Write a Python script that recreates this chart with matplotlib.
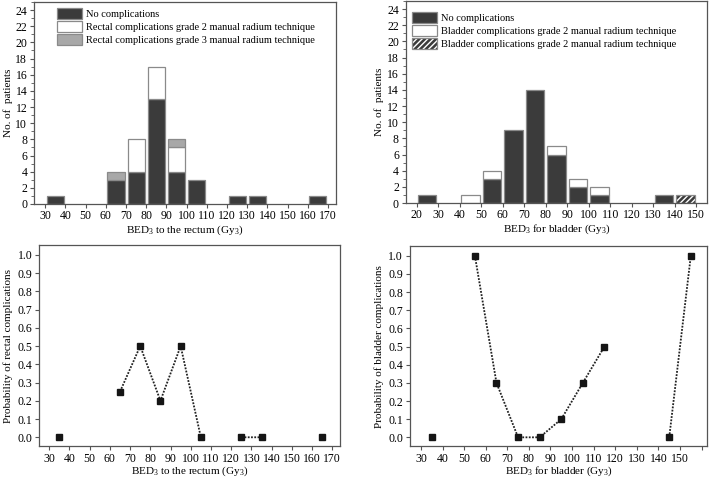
import numpy as np
import matplotlib
matplotlib.use('Agg')
import matplotlib.pyplot as plt
from matplotlib.patches import Patch
from matplotlib.ticker import MultipleLocator

plt.rcParams['font.family'] = ['Liberation Serif', 'DejaVu Serif']
plt.rcParams['mathtext.default'] = 'regular'
plt.rcParams['font.size'] = 8

# rectum histogram (bin centres)
rect_bins = [35, 45, 55, 65, 75, 85, 95, 105, 115, 125, 135, 145, 155, 165]
rect_none = [1, 0, 0, 3, 4, 13, 4, 3, 0, 1, 1, 0, 0, 1]
rect_g2 = [0, 0, 0, 0, 4, 4, 3, 0, 0, 0, 0, 0, 0, 0]
rect_g3 = [0, 0, 0, 1, 0, 0, 1, 0, 0, 0, 0, 0, 0, 0]

# bladder histogram
blad_bins = [25, 35, 45, 55, 65, 75, 85, 95, 105, 115, 125, 135, 145]
blad_none = [1, 0, 0, 3, 9, 14, 6, 2, 1, 0, 0, 1, 0]
blad_g2 = [0, 0, 1, 1, 0, 0, 1, 1, 1, 0, 0, 0, 0]
blad_hatch = [0, 0, 0, 0, 0, 0, 0, 0, 0, 0, 0, 0, 1]

# probabilities
rect_px = [35, 45, 55, 65, 75, 85, 95, 105, 115, 125, 135, 145, 155, 165]
rect_p = [0, np.nan, np.nan, 0.25, 0.5, 0.2, 0.5, 0, np.nan, 0, 0, np.nan, np.nan, 0]
blad_px = [35, 45, 55, 65, 75, 85, 95, 105, 115, 125, 135, 145, 155]
blad_p = [0, np.nan, 1.0, 0.3, 0, 0, 0.1, 0.3, 0.5, np.nan, np.nan, 0, 1.0]

dark = '#3b3b3b'
grey = '#a8a8a8'
edge = '#8a8a8a'
spine_c = '#555555'

fig = plt.figure(figsize=(7.12, 4.8), dpi=100)
ax1 = fig.add_axes([0.048, 0.575, 0.424, 0.421])
ax2 = fig.add_axes([0.570, 0.577, 0.423, 0.421])
ax3 = fig.add_axes([0.055, 0.07, 0.423, 0.42])
ax4 = fig.add_axes([0.576, 0.07, 0.417, 0.418])


def style(ax):
    for s in ax.spines.values():
        s.set_color(spine_c)
        s.set_linewidth(0.9)
    ax.tick_params(direction='out', length=3, width=0.8, color=spine_c, labelsize=8.5, pad=2)
    ax.tick_params(which='minor', direction='out', length=2, width=0.6, color=spine_c)
    ax.tick_params(axis='x', pad=1.5)


w = 8.5
rb = np.array(rect_bins)
n = np.array(rect_none)
g2 = np.array(rect_g2)
g3 = np.array(rect_g3)
m = n > 0
ax1.bar(rb[m], n[m], w, color=dark, edgecolor=edge, lw=0.9)
m = g2 > 0
ax1.bar(rb[m], g2[m], w, bottom=n[m], color='white', edgecolor=edge, lw=0.9)
m = g3 > 0
ax1.bar(rb[m], g3[m], w, bottom=(n + g2)[m], color=grey, edgecolor=edge, lw=0.9)
ax1.set_xlim(24.5, 174)
ax1.set_ylim(0, 25)
ax1.set_xticks(range(30, 171, 10))
ax1.set_yticks(range(0, 25, 2))
ax1.yaxis.set_minor_locator(MultipleLocator(1))
ax1.set_xlabel('BED$_3$ to the rectum (Gy$_3$)', labelpad=1)
ax1.set_ylabel('No. of  patients', labelpad=2)
style(ax1)
h1 = [Patch(facecolor=dark, edgecolor=edge, lw=0.9),
      Patch(facecolor='white', edgecolor=edge, lw=0.9),
      Patch(facecolor=grey, edgecolor=edge, lw=0.9)]
ax1.legend(h1, ['No complications',
                'Rectal complications grade 2 manual radium technique',
                'Rectal complications grade 3 manual radium technique'],
           loc='upper left', bbox_to_anchor=(0.055, 1.0), frameon=False,
           handlelength=2.4, handleheight=1.25, handletextpad=0.35,
           labelspacing=0.2, fontsize=7.5, borderaxespad=0.2)

bb = np.array(blad_bins)
n = np.array(blad_none)
g2 = np.array(blad_g2)
hh = np.array(blad_hatch)
m = n > 0
ax2.bar(bb[m], n[m], w, color=dark, edgecolor=edge, lw=0.9)
m = g2 > 0
ax2.bar(bb[m], g2[m], w, bottom=n[m], color='white', edgecolor=edge, lw=0.9)
m = hh > 0
ax2.bar(bb[m], hh[m], w, bottom=(n + g2)[m], color=dark, edgecolor='white',
        hatch='//////', lw=0)
ax2.bar(bb[m], hh[m], w, bottom=(n + g2)[m], fill=False, edgecolor=edge, lw=0.9)
ax2.set_xlim(15, 155)
ax2.set_ylim(0, 25)
ax2.set_xticks(range(20, 151, 10))
ax2.set_yticks(range(0, 25, 2))
ax2.yaxis.set_minor_locator(MultipleLocator(1))
ax2.set_xlabel('BED$_3$ for bladder (Gy$_3$)', labelpad=1)
ax2.set_ylabel('No. of  patients', labelpad=2)
style(ax2)
h2 = [Patch(facecolor=dark, edgecolor=edge, lw=0.9),
      Patch(facecolor='white', edgecolor=edge, lw=0.9),
      (Patch(facecolor=dark, edgecolor='white', hatch='//////', lw=0),
       Patch(fill=False, edgecolor=edge, lw=0.9))]
ax2.legend(h2, ['No complications',
                'Bladder complications grade 2 manual radium technique',
                'Bladder complications grade 2 manual radium technique'],
           loc='upper left', bbox_to_anchor=(0.0, 0.975), frameon=False,
           handlelength=2.4, handleheight=1.25, handletextpad=0.35,
           labelspacing=0.2, fontsize=7.5, borderaxespad=0.2)

ax3.plot(rect_px, rect_p, ls=(0, (1, 0.8)), lw=1.3, color='#222222', marker='s',
         ms=5, mfc='#151515', mec='#151515')
ax3.set_xlim(25, 174)
ax3.set_ylim(-0.05, 1.055)
ax3.set_xticks(range(30, 171, 10))
ax3.set_yticks(np.arange(0, 1.01, 0.1))
ax3.set_yticklabels([f'{v:.1f}' for v in np.arange(0, 1.01, 0.1)])
ax3.set_xlabel('BED$_3$ to the rectum (Gy$_3$)', labelpad=0)
ax3.set_ylabel('Probability of rectal complications', labelpad=3)
style(ax3)

ax4.plot(blad_px, blad_p, ls=(0, (1, 0.8)), lw=1.3, color='#222222', marker='s',
         ms=5, mfc='#151515', mec='#151515')
ax4.set_xlim(25, 162.5)
ax4.set_ylim(-0.05, 1.055)
ax4.set_xticks(range(30, 161, 10))
ax4.set_xticklabels([str(v) for v in range(30, 151, 10)] + [''])
ax4.set_yticks(np.arange(0, 1.01, 0.1))
ax4.set_yticklabels([f'{v:.1f}' for v in np.arange(0, 1.01, 0.1)])
ax4.set_xlabel('BED$_3$ for bladder (Gy$_3$)', labelpad=0)
ax4.set_ylabel('Probability of bladder complications', labelpad=3)
style(ax4)

fig.savefig('out.png', dpi=100)
